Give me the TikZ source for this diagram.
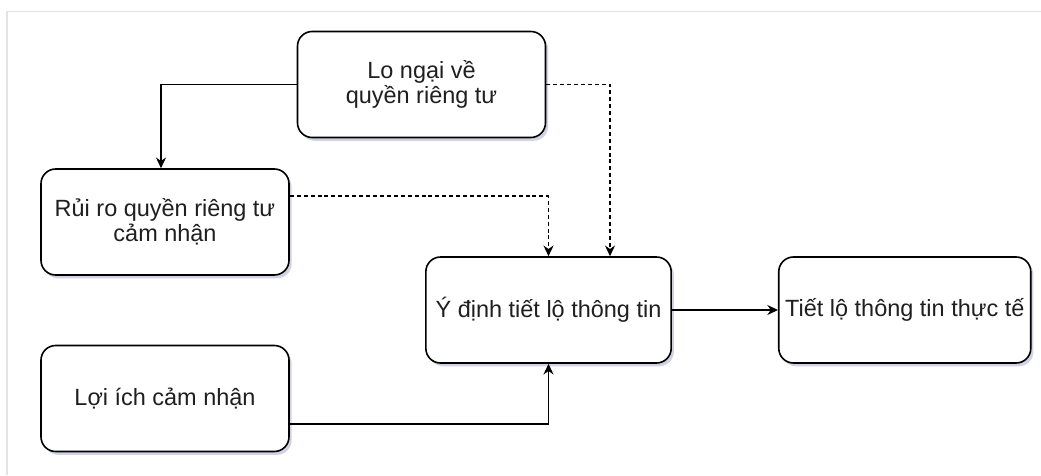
\documentclass[tikz,border=0pt]{standalone}
\usepackage{fontspec}
\setmainfont{Liberation Sans}
\usepackage{tikz}
\usetikzlibrary{arrows.meta, positioning, calc, shadows}
\definecolor{framegray}{HTML}{E3E3E3}
\definecolor{shadowblue}{HTML}{9A9CC0}
\tikzset{
    boxshadow/.style={drop shadow={shadow xshift=2pt, shadow yshift=-2.5pt, fill=shadowblue, opacity=0.45}}
}

\begin{document}
\begin{tikzpicture}[
    x=0.75pt, y=0.75pt,
    box/.style={draw, line width=1.2pt, rounded corners=11pt, fill=white, boxshadow,
        minimum width=186pt, minimum height=79.5pt, align=center, inner sep=2pt,
        font=\fontsize{17.6}{18.5}\selectfont, text=black!88},
    arrow/.style={-{Stealth[length=8pt, width=7.5pt]}, line width=1.2pt},
    dasharrow/.style={arrow, dash pattern=on 3pt off 2.2pt},
    node distance=0pt and 79.5pt
]
\useasboundingbox (0,0) rectangle (1041,-475);

% frame
\draw[framegray, line width=0.8pt] (7,-475) -- (7,-11.5) -- (1041,-11.5);

% boxes
\node[box] (concern) at (421.5,-84.5) {Lo ngại về\\quyền riêng tư};
\node[box] (risk) at (165,-222) {Rủi ro quyền riêng tư\\cảm nhận};
\node[box] (benefit) at (165,-398.5) {Lợi ích cảm nhận};
\node[box, minimum width=184pt] (intent) at (548.5,-310) {Ý định tiết lộ thông tin};
\node[box, minimum width=189pt, right=of intent] (actual) {Tiết lộ thông tin thực tế};

% connectors
\draw[arrow] (concern.west) -| ($(risk.north)+(-4,0)$);
\draw[dasharrow] (concern.east) -| ($(intent.north)+(61.5,0)$);
\draw[dasharrow] ($(risk.east)+(0,26)$) -| (intent.north);
\draw[arrow] ($(benefit.east)+(0,-25.5)$) -| (intent.south);
\draw[arrow] (intent.east) -- (actual.west);

\end{tikzpicture}
\end{document}
